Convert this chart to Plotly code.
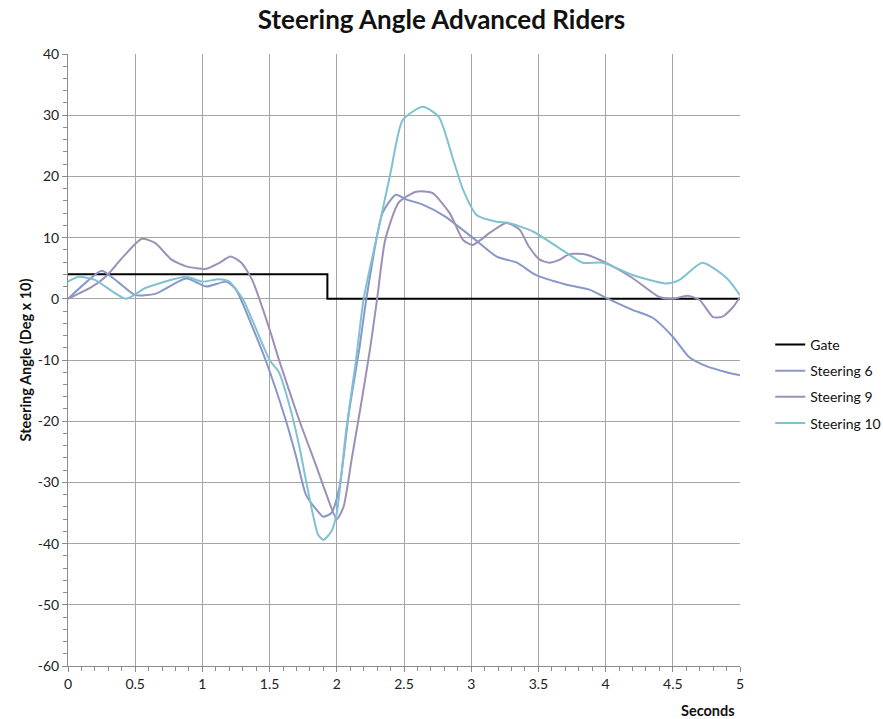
import plotly.graph_objects as go

# ---- data ----
gate_t = [0, 1.93, 1.93, 5]
gate_v = [4, 4, 0, 0]

s6_t = [0, 0.13, 0.25, 0.38, 0.5, 0.65, 0.88, 1.03, 1.18, 1.25, 1.37, 1.47, 1.62, 1.7, 1.77,
        1.85, 1.9, 1.96, 2.02, 2.09, 2.17, 2.22, 2.34, 2.44, 2.52, 2.64, 2.81, 3.01, 3.19,
        3.34, 3.48, 3.71, 3.88, 4.0, 4.2, 4.35, 4.5, 4.62, 4.75, 4.9, 5.0]
s6_v = [0, 2.6, 4.6, 2.6, 0.6, 0.8, 3.3, 2.0, 2.8, 1.5, -4.5, -10, -19.8, -26, -32,
        -34.5, -35.6, -35, -30.7, -18.6, -7.8, 0, 14, 17, 16.2, 15.4, 13.4, 10, 6.9,
        5.9, 3.9, 2.3, 1.5, 0.2, -1.8, -3.1, -6.2, -9.5, -11, -12, -12.5]

s9_t = [0, 0.18, 0.28, 0.4, 0.55, 0.65, 0.77, 0.88, 1.03, 1.12, 1.21, 1.29, 1.37, 1.5, 1.57,
        1.72, 1.85, 1.92, 2.0, 2.05, 2.11, 2.19, 2.25, 2.3, 2.36, 2.46, 2.59, 2.71, 2.84,
        2.94, 3.01, 3.14, 3.26, 3.36, 3.43, 3.51, 3.58, 3.66, 3.73, 3.86, 4.0, 4.2, 4.4,
        4.5, 4.61, 4.7, 4.8, 4.87, 4.95, 5.0]
s9_v = [0, 2, 3.6, 6.6, 9.8, 9.1, 6.4, 5.3, 4.9, 5.8, 6.9, 5.9, 3.1, -5, -10,
        -19.8, -27.5, -31.8, -36, -34, -26.3, -16, -7.8, 0, 9.6, 15.7, 17.5, 17.3, 14,
        9.6, 8.8, 10.8, 12.4, 11.3, 8.5, 6.4, 5.9, 6.4, 7.3, 7.2, 5.9, 3.4, 0.3,
        0, 0.5, -0.2, -3, -2.9, -1.3, 0.3]

s10_t = [0, 0.08, 0.2, 0.43, 0.58, 0.88, 1.0, 1.12, 1.2, 1.3, 1.37, 1.5, 1.57, 1.65, 1.72,
         1.77, 1.82, 1.86, 1.9, 1.96, 2.0, 2.07, 2.14, 2.2, 2.32, 2.4, 2.49, 2.64, 2.76,
         2.86, 2.94, 3.04, 3.19, 3.28, 3.46, 3.71, 3.83, 3.98, 4.2, 4.45, 4.55, 4.72,
         4.9, 5.0]
s10_v = [2.8, 3.6, 3.1, 0, 1.8, 3.6, 2.8, 3.2, 2.8, 0, -3.4, -10, -12, -17.6, -24,
         -29.6, -35, -38.5, -39.4, -38, -35, -21.4, -10.5, 0, 12.4, 20.6, 29.2, 31.4, 29.7,
         23.2, 17.8, 13.7, 12.6, 12.4, 11, 7.5, 5.9, 5.9, 3.9, 2.5, 3.1, 5.9,
         3.4, 0.6]

x_ticks = [0, 0.5, 1, 1.5, 2, 2.5, 3, 3.5, 4, 4.5, 5]
x_ticktext = ["0", "0.5", "1", "1.5", "2", "2.5", "3", "3.5", "4", "4.5", "5"]
y_ticks = [40, 30, 20, 10, 0, -10, -20, -30, -40, -50, -60]
y_ticktext = ["40", "30", "20", "10", "0", "-10", "-20", "-30", "-40", "-50", "-60"]

FONT = "Lato, 'Open Sans', sans-serif"

fig = go.Figure()
fig.add_trace(go.Scatter(x=gate_t, y=gate_v, mode="lines", name="Gate", legendgroup="g",
                         line=dict(color="#000000", width=2)))
fig.add_trace(go.Scatter(x=s6_t, y=s6_v, mode="lines", name="Steering 6", legendgroup="s6",
                         line=dict(color="#8797C8", width=2, shape="spline", smoothing=0.6)))
fig.add_trace(go.Scatter(x=s9_t, y=s9_v, mode="lines", name="Steering 9", legendgroup="s9",
                         line=dict(color="#9D90B8", width=2, shape="spline", smoothing=0.6)))
fig.add_trace(go.Scatter(x=s10_t, y=s10_v, mode="lines", name="Steering 10", legendgroup="s10",
                         line=dict(color="#80C2D4", width=2, shape="spline", smoothing=0.6)))

fig.update_layout(
    width=883, height=719,
    margin=dict(l=68, r=143, t=54, b=53, autoexpand=False),
    paper_bgcolor="white", plot_bgcolor="white",
    font=dict(family=FONT, size=14, color="#222222"),
    title=dict(text="<b>Steering Angle Advanced Riders</b>", x=0.5, xanchor="center",
               y=0.972, yanchor="middle", font=dict(family=FONT, size=26, color="#111111")),
    legend=dict(x=1.045, xanchor="left", y=0.461, yanchor="middle",
                font=dict(family=FONT, size=14, color="#111111"),
                bgcolor="rgba(0,0,0,0)", tracegroupgap=5),
    showlegend=True,
)

fig.update_xaxes(
    range=[0, 5], tickmode="array", tickvals=x_ticks, ticktext=x_ticktext,
    showgrid=True, gridcolor="#A6A6A6", gridwidth=1, automargin=False,
    showline=True, linecolor="#8C8C8C", linewidth=1,
    ticks="outside", ticklen=5, tickcolor="#8C8C8C",
    minor=dict(dtick=0.1, ticks="outside", ticklen=4, tickcolor="#8C8C8C", showgrid=False),
    zeroline=False, tickfont=dict(size=14, color="#222222"),
)
fig.update_yaxes(
    range=[-60, 40], tickmode="array", tickvals=y_ticks, ticktext=y_ticktext,
    automargin=False,
    showgrid=True, gridcolor="#A6A6A6", gridwidth=1,
    showline=True, linecolor="#8C8C8C", linewidth=1,
    ticks="outside", ticklen=5, tickcolor="#8C8C8C",
    minor=dict(dtick=2, ticks="outside", ticklen=4, tickcolor="#8C8C8C", showgrid=False),
    zeroline=False, tickfont=dict(size=14, color="#222222"),
    title=dict(text="<b>Steering Angle (Deg x 10)</b>", font=dict(size=14.5, color="#111111"),
               standoff=2),
)

fig.add_annotation(text="<b>Seconds</b>", xref="paper", yref="paper", x=0.995, y=-0.072,
                   xanchor="right", yanchor="middle", showarrow=False,
                   font=dict(family=FONT, size=14.5, color="#111111"))

fig.write_html("out.html", config={"displayModeBar": False},
               post_script="document.body.style.margin='0';document.body.style.overflow='hidden';")
